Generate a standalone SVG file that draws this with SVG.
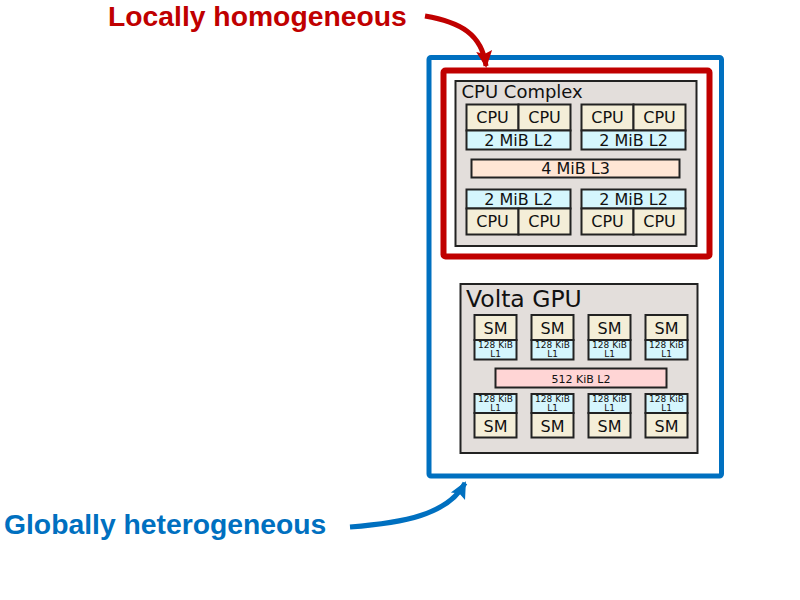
<svg xmlns="http://www.w3.org/2000/svg" width="800" height="600" viewBox="0 0 800 600">
<style>
.box{fill:#e3dedb;stroke:#222;stroke-width:2}
.cpu{fill:#f4eed8;stroke:#222;stroke-width:2}
.l2{fill:#d5f6fd;stroke:#222;stroke-width:2}
.l3{fill:#ffe6d5;stroke:#222;stroke-width:2}
.gl2{fill:#ffd5d5;stroke:#222;stroke-width:2}
.t{font-family:"DejaVu Sans",sans-serif;fill:#111;text-anchor:middle}
.t16{font-size:16px}
.t15{font-size:16px}
.t8{font-size:9px}
.lbl{font-family:"Liberation Sans",Arial,sans-serif;font-weight:bold;font-size:28.3px}
</style>
<defs>
<marker id="ahr" markerUnits="userSpaceOnUse" markerWidth="20" markerHeight="20" viewBox="0 0 20 20" refX="15" refY="10" orient="auto">
<polygon points="0,2 17,10 0,18 3,10" fill="#c00000"/>
</marker>
<marker id="ahb" markerUnits="userSpaceOnUse" markerWidth="20" markerHeight="20" viewBox="0 0 20 20" refX="15" refY="10" orient="auto">
<polygon points="0,2 17,10 0,18 3,10" fill="#0070c0"/>
</marker>
</defs>

<g id="global-box">
<rect x="429" y="57.5" width="292.5" height="418.5" rx="2" fill="none" stroke="#0070c0" stroke-width="5"/>
</g>
<g id="local-box">
<rect x="443.5" y="70.5" width="266" height="186" rx="2" fill="none" stroke="#c00000" stroke-width="6"/>
</g>

<g id="cpu-complex">
<rect class="box" x="455.5" y="81" width="241" height="165"/>
<text class="t" x="461.5" y="98" font-size="18" style="text-anchor:start">CPU Complex</text>
</g>
<g id="cpu-cluster-1">
<rect class="cpu" x="466.5" y="104.5" width="52" height="26"/>
<rect class="cpu" x="518.5" y="104.5" width="52" height="26"/>
<rect class="l2" x="466.5" y="130.5" width="104" height="19"/>
<text class="t t16" x="492.5" y="123">CPU</text>
<text class="t t16" x="544.5" y="123">CPU</text>
<text class="t t16" x="518.5" y="145.5">2 MiB L2</text>
</g>
<g id="cpu-cluster-2">
<rect class="cpu" x="581.5" y="104.5" width="52" height="26"/>
<rect class="cpu" x="633.5" y="104.5" width="52" height="26"/>
<rect class="l2" x="581.5" y="130.5" width="104" height="19"/>
<text class="t t16" x="607.5" y="123">CPU</text>
<text class="t t16" x="659.5" y="123">CPU</text>
<text class="t t16" x="633.5" y="145.5">2 MiB L2</text>
</g>
<g id="cpu-l3">
<rect class="l3" x="471.5" y="159.5" width="208" height="18"/>
<text class="t t16" x="575.5" y="174">4 MiB L3</text>
</g>
<g id="cpu-cluster-3">
<rect class="l2" x="466.5" y="189.5" width="104" height="19"/>
<rect class="cpu" x="466.5" y="208.5" width="52" height="26"/>
<rect class="cpu" x="518.5" y="208.5" width="52" height="26"/>
<text class="t t16" x="518.5" y="205">2 MiB L2</text>
<text class="t t16" x="492.5" y="227">CPU</text>
<text class="t t16" x="544.5" y="227">CPU</text>
</g>
<g id="cpu-cluster-4">
<rect class="l2" x="581.5" y="189.5" width="104" height="19"/>
<rect class="cpu" x="581.5" y="208.5" width="52" height="26"/>
<rect class="cpu" x="633.5" y="208.5" width="52" height="26"/>
<text class="t t16" x="633.5" y="205">2 MiB L2</text>
<text class="t t16" x="607.5" y="227">CPU</text>
<text class="t t16" x="659.5" y="227">CPU</text>
</g>

<g id="volta-gpu">
<rect class="box" x="460.5" y="284" width="237" height="169"/>
<text class="t" x="466" y="307" font-size="23.5" style="text-anchor:start">Volta GPU</text>
</g>
<g id="sm-1">
<rect class="cpu" x="474.5" y="315" width="42" height="25"/>
<rect class="l2" x="474.5" y="340" width="42" height="19.5"/>
<text class="t t15" x="495.5" y="334">SM</text>
<text class="t t8" x="495.5" y="347.5" textLength="35">128 KiB</text>
<text class="t t8" x="495.5" y="356.5">L1</text>
</g>
<g id="sm-2">
<rect class="cpu" x="531.5" y="315" width="42" height="25"/>
<rect class="l2" x="531.5" y="340" width="42" height="19.5"/>
<text class="t t15" x="552.5" y="334">SM</text>
<text class="t t8" x="552.5" y="347.5" textLength="35">128 KiB</text>
<text class="t t8" x="552.5" y="356.5">L1</text>
</g>
<g id="sm-3">
<rect class="cpu" x="588.5" y="315" width="42" height="25"/>
<rect class="l2" x="588.5" y="340" width="42" height="19.5"/>
<text class="t t15" x="609.5" y="334">SM</text>
<text class="t t8" x="609.5" y="347.5" textLength="35">128 KiB</text>
<text class="t t8" x="609.5" y="356.5">L1</text>
</g>
<g id="sm-4">
<rect class="cpu" x="645.5" y="315" width="42" height="25"/>
<rect class="l2" x="645.5" y="340" width="42" height="19.5"/>
<text class="t t15" x="666.5" y="334">SM</text>
<text class="t t8" x="666.5" y="347.5" textLength="35">128 KiB</text>
<text class="t t8" x="666.5" y="356.5">L1</text>
</g>
<g id="gpu-l2">
<rect class="gl2" x="495.5" y="368.5" width="171" height="19"/>
<text class="t" x="581" y="382.5" font-size="11">512 KiB L2</text>
</g>
<g id="sm-5">
<rect class="l2" x="474.5" y="394" width="42" height="19"/>
<rect class="cpu" x="474.5" y="413" width="42" height="24.5"/>
<text class="t t8" x="495.5" y="401.5" textLength="35">128 KiB</text>
<text class="t t8" x="495.5" y="410.5">L1</text>
<text class="t t15" x="495.5" y="431.5">SM</text>
</g>
<g id="sm-6">
<rect class="l2" x="531.5" y="394" width="42" height="19"/>
<rect class="cpu" x="531.5" y="413" width="42" height="24.5"/>
<text class="t t8" x="552.5" y="401.5" textLength="35">128 KiB</text>
<text class="t t8" x="552.5" y="410.5">L1</text>
<text class="t t15" x="552.5" y="431.5">SM</text>
</g>
<g id="sm-7">
<rect class="l2" x="588.5" y="394" width="42" height="19"/>
<rect class="cpu" x="588.5" y="413" width="42" height="24.5"/>
<text class="t t8" x="609.5" y="401.5" textLength="35">128 KiB</text>
<text class="t t8" x="609.5" y="410.5">L1</text>
<text class="t t15" x="609.5" y="431.5">SM</text>
</g>
<g id="sm-8">
<rect class="l2" x="645.5" y="394" width="42" height="19"/>
<rect class="cpu" x="645.5" y="413" width="42" height="24.5"/>
<text class="t t8" x="666.5" y="401.5" textLength="35">128 KiB</text>
<text class="t t8" x="666.5" y="410.5">L1</text>
<text class="t t15" x="666.5" y="431.5">SM</text>
</g>

<g id="label-local">
<text class="lbl" x="108" y="25.5" fill="#c00000">Locally homogeneous</text>
</g>
<g id="label-global">
<text class="lbl" x="4" y="534" fill="#0070c0">Globally heterogeneous</text>
</g>

<g id="connectors" fill="none" stroke-width="5">
<path d="M425,16 C460,22 482,34 486,66" stroke="#c00000" marker-end="url(#ahr)"/>
<path d="M350,527 C402,523 448,515 465,483" stroke="#0070c0" marker-end="url(#ahb)"/>
</g>
</svg>
